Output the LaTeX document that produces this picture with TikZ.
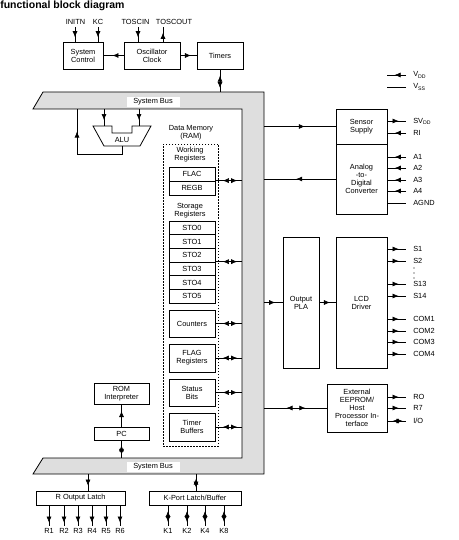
\documentclass[tikz,border=0pt]{standalone}
\usepackage{fontspec}
\setmainfont{Liberation Sans}
\usetikzlibrary{arrows.meta,decorations.markings}

\tikzset{
  >={Latex[length=6pt,width=5pt]},
  midarr/.style={postaction={decorate},
    decoration={markings, mark=at position #1 with {\arrow{>}}}},
  midarr/.default=0.6,
  dblarr/.style args={#1/#2}{postaction={decorate},
    decoration={markings, mark=at position #1 with {\arrowreversed{>}},
      mark=at position #2 with {\arrow{>}}}},
  dblarr/.default={0.28/0.82},
  blk/.style={draw, line width=0.8pt, inner sep=1pt},
  reg/.style={blk, minimum width=46pt, minimum height=14pt},
  dotbox/.style={draw, line width=0.7pt, dash pattern=on 1.5pt off 1.5pt},
  buslab/.style={fill=white, minimum width=53pt, minimum height=10pt, inner sep=0pt},
  pinlab/.style={anchor=west, inner xsep=7pt, inner ysep=1pt},
  botlab/.style={inner xsep=0pt, inner ysep=2.5pt},
}

\begin{document}
\begin{tikzpicture}[x=1pt, y=-1pt, line width=0.6pt,
  every node/.style={font=\fontsize{7.4}{8}\selectfont, align=center}]
  \useasboundingbox (0,0) rectangle (458,540);
  \node[font=\fontsize{10.5}{11}\selectfont\bfseries, anchor=west, inner sep=0pt] (title) at (0,6) {functional block diagram};

  % system bus frame
  \coordinate (busTt) at (0,92);
  \coordinate (busT) at (0,109);
  \coordinate (busB) at (0,458);
  \coordinate (busR) at (242,0);
  \coordinate (busRo) at (264,0);
  \draw[line width=0.8pt, fill=black!13] (43,92) -- (264,92) -- (264,474) -- (33,474) -- (43,458)
    -- (242,458) -- (242,109) -- (33,109) -- cycle;
  \node[buslab] (tbus) at (153,102) {System Bus};
  \node[buslab] (bbus) at (153,467) {System Bus};

  % top row
  \node[blk, minimum width=40pt, minimum height=27pt] (sysctl) at (83,55.5) {System\\Control};
  \node[blk, minimum width=56pt, minimum height=27pt] (osc) at (152,55.5) {Oscillator\\Clock};
  \node[blk, minimum width=46pt, minimum height=27pt] (timers) at (220,55.5) {Timers};
  \draw[midarr=0.55] (osc.west) -- (sysctl.east);
  \draw[midarr=0.65] (osc.east) -- (timers.west);
  \draw[dblarr] (timers.south) -- (timers.south |- busTt);

  \node (lINITN) at (75.5,22) {INITN};
  \node (lKC) at (98,22) {KC};
  \node (lTOSCIN) at (135.5,22) {TOSCIN};
  \node (lTOSCOUT) at (174,22) {TOSCOUT};
  \coordinate (cINITN) at (75,27);
  \coordinate (cKC) at (98,27);
  \coordinate (cTOSCIN) at (138,27);
  \coordinate (cTOSCOUT) at (163,27);
  \draw[midarr=0.7] (cINITN) -- (cINITN |- sysctl.north);
  \draw[midarr=0.7] (cKC) -- (cKC |- sysctl.north);
  \draw[midarr=0.7] (cTOSCIN) -- (cTOSCIN |- osc.north);
  \draw[midarr=0.6] (cTOSCOUT |- osc.north) -- (cTOSCOUT);

  % supply legend
  \coordinate (vddL) at (387,75);
  \coordinate (vssL) at (387,87);
  \node[pinlab] (pVDD) at (406,75) {V\textsubscript{DD}};
  \node[pinlab] (pVSS) at (406,87) {V\textsubscript{SS}};
  \draw[midarr=0.6] (pVDD.west) -- (vddL);
  \draw (pVSS.west) -- (vssL);

  % sensor supply and ADC
  \node[blk, minimum width=51pt, minimum height=35pt] (sensor) at (361.5,126.5) {Sensor\\Supply};
  \node[blk, minimum width=51pt, minimum height=70pt] (adc) at (361.5,179) {Analog\\-to-\\Digital\\Converter};
  \draw[midarr=0.57] (sensor.west -| busRo) -- (sensor.west);
  \draw[midarr=0.55] (adc.west) -- (adc.west -| busRo);
  \node[pinlab] (pSVDD) at (406,121) {SV\textsubscript{DD}};
  \node[pinlab] (pRI) at (406,133) {RI};
  \draw[midarr] (sensor.east |- pSVDD) -- (pSVDD.west);
  \draw[midarr] (pRI.west) -- (sensor.east |- pRI);
  \foreach \n/\y in {A1/157, A2/168, A3/180, A4/191} {
    \node[pinlab] (p\n) at (406,\y) {\n};
    \draw[midarr] (p\n.west) -- (adc.east |- p\n);
  }
  \node[pinlab] (pAGND) at (406,203) {AGND};
  \draw (adc.east |- pAGND) -- (pAGND.west);

  % output PLA and LCD driver
  \node[blk, minimum width=36pt, minimum height=131pt] (pla) at (301,302.5) {Output\\PLA};
  \node[blk, minimum width=51pt, minimum height=131pt] (lcd) at (361.5,302.5) {LCD\\Driver};
  \draw[midarr=0.6] (pla.west -| busRo) -- (pla.west);
  \draw[midarr=0.65] (pla.east) -- (lcd.west);
  \foreach \n/\y in {S1/249, S2/261, S13/284, S14/296, COM1/319, COM2/331, COM3/342, COM4/354} {
    \node[pinlab] (p\n) at (406,\y) {\n};
    \draw[midarr] (lcd.east |- p\n) -- (p\n.west);
  }
  \foreach \k in {0,1,2}
    \fill (414,268+5*\k) circle (0.6pt);

  % external EEPROM / host interface
  \node[blk, minimum width=60pt, minimum height=48pt] (eeprom) at (357,408) {External\\EEPROM/\\Host\\Processor In-\\terface};
  \draw[dblarr={0.36/0.66}] (eeprom.west -| busRo) -- (eeprom.west);
  \node[pinlab] (pRO) at (406,397) {RO};
  \node[pinlab] (pR7) at (406,408) {R7};
  \node[pinlab] (pIO) at (406,421) {I/O};
  \draw[midarr] (eeprom.east |- pRO) -- (pRO.west);
  \draw[midarr] (eeprom.east |- pR7) -- (pR7.west);
  \draw[dblarr] (eeprom.east |- pIO) -- (pIO.west);

  % data memory
  \node (ramlab) at (191,133) {Data Memory\\(RAM)};
  \node[dotbox, minimum width=55pt, minimum height=302pt] (ram) at (190.5,295) {};
  \node (wreg) at (190,155) {Working\\Registers};
  \node[reg] (flac) at (192,174) {FLAC};
  \node[reg] (regb) at (192,188) {REGB};
  \node (sreg) at (190,211) {Storage\\Registers};
  \foreach \i in {0,...,5}
    \node[reg, minimum height=13.7pt] (sto\i) at (192,227.8+13.7*\i) {STO\i};
  \node[reg, minimum height=27pt] (cnt) at (192,323.5) {Counters};
  \node[reg, minimum height=28pt] (flag) at (192,358) {FLAG\\Registers};
  \node[reg, minimum height=27pt] (stat) at (192,392.5) {Status\\Bits};
  \node[reg, minimum height=28pt] (tbuf) at (192,427) {Timer\\Buffers};
  \draw[dblarr] (regb.north east) -- (regb.north east -| busR);
  \draw[dblarr] (sto3.north east) -- (sto3.north east -| busR);
  \foreach \b in {cnt, flag, stat, tbuf}
    \draw[dblarr] (\b.east) -- (\b.east -| busR);

  % ALU with feedback to the bus
  \draw[line width=0.8pt] (93,126) -- (112,126) -- (112,133) -- (132,133) -- (132,126) -- (151,126)
    -- (140,146) -- (104,146) -- cycle;
  \node (alu) at (122,140) {ALU};
  \coordinate (aluA) at (104,126);
  \coordinate (aluB) at (139,126);
  \coordinate (aluO) at (122,146);
  \coordinate (fbk) at (77,154);
  \draw[midarr=0.65] (aluA |- busT) -- (aluA);
  \draw[midarr=0.65] (aluB |- busT) -- (aluB);
  \draw[midarr=0.77] (aluO) |- (fbk) -- (fbk |- busT);

  % ROM interpreter and PC
  \node[blk, minimum width=55pt, minimum height=21pt] (rom) at (121.5,393.5) {ROM\\Interpreter};
  \node[blk, minimum width=55pt, minimum height=13pt] (pc) at (121.5,433.5) {PC};
  \draw[midarr=0.7] (pc.north) -- (rom.south);
  \draw[dblarr] (pc.south) -- (pc.south |- busB);

  % output latch and K port
  \node[blk, minimum width=89pt, minimum height=14pt] (rlatch) at (80.5,498) {R Output Latch};
  \node[blk, minimum width=92pt, minimum height=14pt] (kport) at (195,498) {K-Port Latch/Buffer};
  \coordinate (rbus) at (88,474);
  \coordinate (kbus) at (196,474);
  \draw[midarr=0.7] (rbus) -- (rbus |- rlatch.north);
  \draw[dblarr] (kbus) -- (kbus |- kport.north);
  \foreach \n/\x in {R1/49, R2/64, R3/78, R4/92, R5/106, R6/120} {
    \node[botlab] (p\n) at (\x,531) {\n};
    \draw[midarr=0.85] (rlatch.south -| p\n) -- (p\n.north);
  }
  \foreach \n/\x in {K1/168, K2/187, K4/205, K8/224} {
    \node[botlab] (p\n) at (\x,531) {\n};
    \draw[dblarr] (kport.south -| p\n) -- (p\n.north);
  }
\end{tikzpicture}
\end{document}
